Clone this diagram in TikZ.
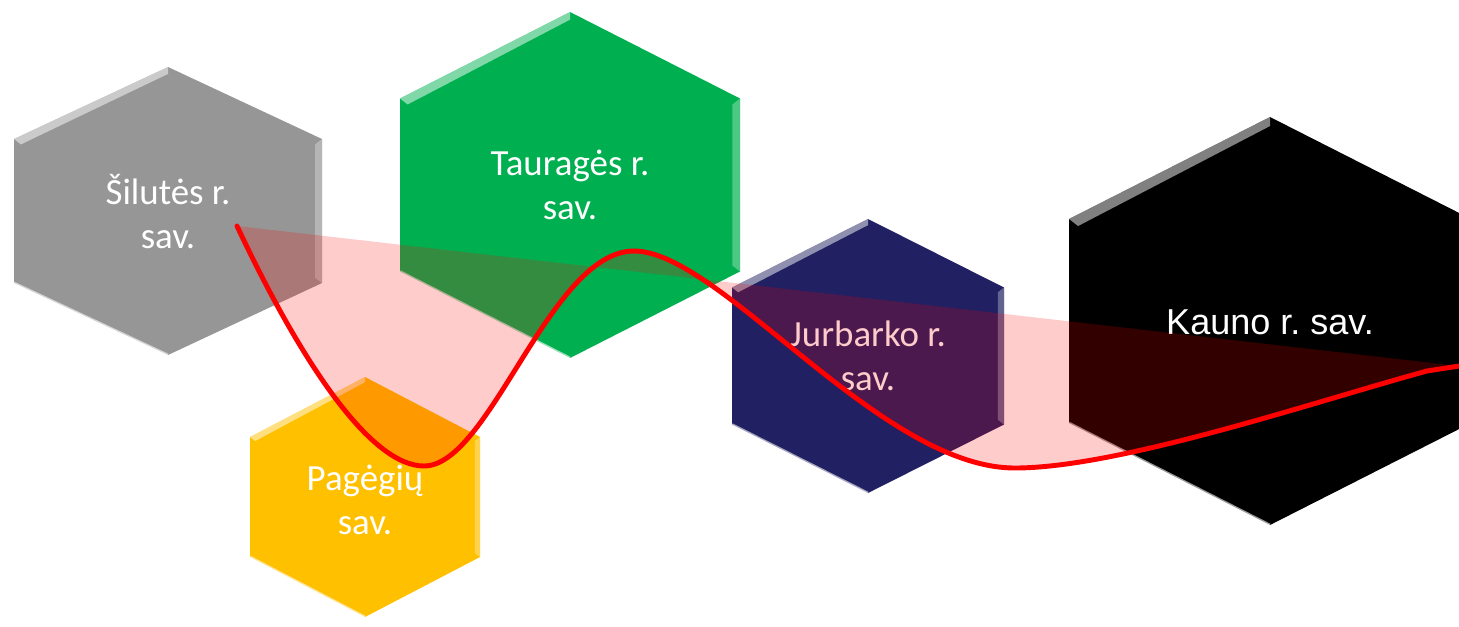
\documentclass[tikz,border=0pt]{standalone}
\usepackage{fontspec}
\usepackage{tikz}
\newfontfamily\calibri{Carlito}
\newfontfamily\arialfont{Liberation Sans}
\definecolor{silgray}{RGB}{150,150,150}
\definecolor{taugreen}{RGB}{0,176,80}
\definecolor{pagorange}{RGB}{255,192,0}
\definecolor{jurnavy}{RGB}{32,32,98}
\frenchspacing

% #1 name, #2 cx, #3 cy, #4 half width, #5 half height, #6 colour
\newcommand{\hexcell}[6]{%
  \fill[#6] ({#2},{#3-#5}) -- ({#2-#4},{#3-#5/2}) -- ({#2-#4},{#3+#5/2})
    -- ({#2},{#3+#5}) -- ({#2+#4},{#3+#5/2}) -- ({#2+#4},{#3-#5/2}) -- cycle;
  \fill[white,fill opacity=.5] ({#2},{#3-#5}) -- ({#2-#4},{#3-#5/2})
    -- ({#2-#4+.045*#4},{#3-#5/2+.035*#4}) -- ({#2},{#3-#5+.045*#4}) -- cycle;
  \fill[white,fill opacity=.3] ({#2+#4},{#3-#5/2}) -- ({#2+#4},{#3+#5/2})
    -- ({#2+#4-.045*#4},{#3+#5/2-.035*#4}) -- ({#2+#4-.045*#4},{#3-#5/2+.035*#4}) -- cycle;
  \draw[white,opacity=.6,line width=1.5] ({#2-#4},{#3+#5/2}) -- ({#2},{#3+#5});
  \coordinate (#1) at (#2,#3);
}

\begin{document}
\begin{tikzpicture}[x=0.02cm,y=-0.02cm,
  celltext/.style={text=white,align=center,font=\calibri\fontsize{21}{25}\selectfont},
  wave/.style={red,line width=2.8pt,line cap=round}]
\useasboundingbox (0,0) rectangle (1459,626);
\clip (0,0) rectangle (1459,626);

\hexcell{silute}{168}{211}{154}{144}{silgray}
\hexcell{taurage}{570}{185}{170}{173}{taugreen}
\hexcell{pagegiai}{365}{497}{115}{120}{pagorange}
\hexcell{jurbarkas}{868}{356}{136}{137}{jurnavy}
\hexcell{kaunas}{1270}{321}{201}{204}{black}

\node[celltext] (silute-txt) at (168,212) {Šilutės r.\\sav.};
\node[celltext] (taurage-txt) at (570,185) {Tauragės r.\\sav.};
\node[celltext] (pagegiai-txt) at (365,500) {Pagėgių\\sav.};
\node[celltext] (jurbarkas-txt) at (868,356) {Jurbarko r.\\sav.};
\node[text=white,font=\arialfont\fontsize{20.5}{24}\selectfont] (kaunas-txt) at (1270,322) {Kauno r. sav.};

% trend band and line
\coordinate (wave-start) at (237,226);
\coordinate (wave-end) at (1459,366);
\fill[red,fill opacity=.2] (wave-start) .. controls (300,360) and (370,466) .. (424,466)
  .. controls (490,466) and (550,251) .. (634,251)
  .. controls (720,251) and (880,468) .. (1015,468)
  .. controls (1120,468) and (1320,400) .. (1427,371) -- (wave-end) -- cycle;
\draw[wave] (wave-start) .. controls (300,360) and (370,466) .. (424,466)
  .. controls (490,466) and (550,251) .. (634,251)
  .. controls (720,251) and (880,468) .. (1015,468)
  .. controls (1120,468) and (1320,400) .. (1427,371) -- (wave-end);
\end{tikzpicture}
\end{document}
